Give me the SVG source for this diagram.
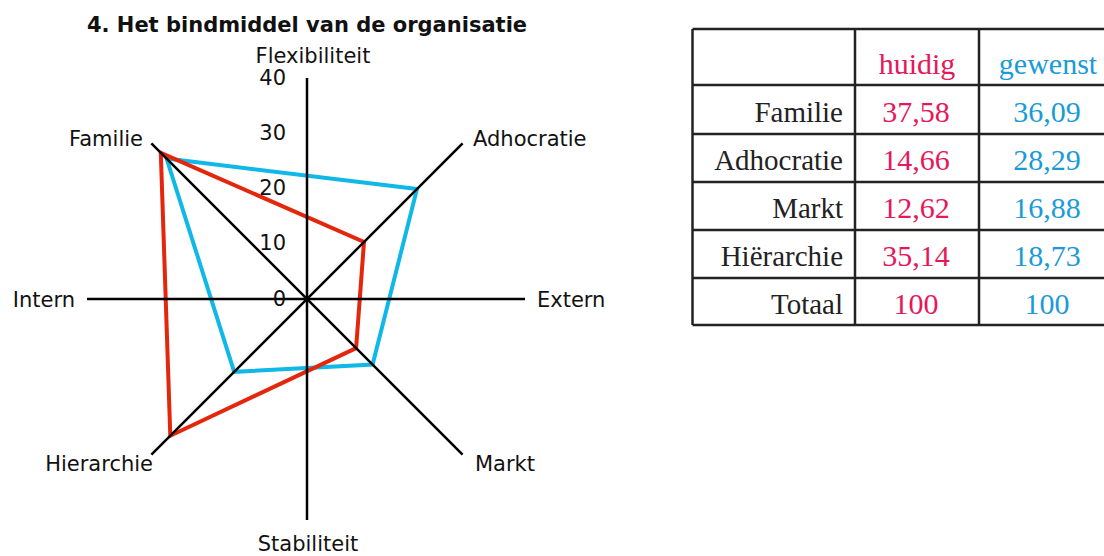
<svg xmlns="http://www.w3.org/2000/svg" width="1104" height="556" viewBox="0 0 1104 556">
<style>
.lbl{font-family:"DejaVu Sans",Verdana,sans-serif;font-size:21px;fill:#111}
.ttl{font-family:"DejaVu Sans",Verdana,sans-serif;font-size:21px;font-weight:bold;fill:#111}
.ax{stroke:#000;stroke-width:2.5;fill:none}
.red{stroke:#e3260c;stroke-width:4;fill:none;stroke-linejoin:miter}
.blue{stroke:#0fb8e6;stroke-width:4;fill:none;stroke-linejoin:miter}
.tb{stroke:#222;stroke-width:2.5;fill:none}
.tt{font-family:"Liberation Serif","Times New Roman",serif;font-size:29px;fill:#222}
.tr{font-family:"Liberation Serif","Times New Roman",serif;font-size:30px;fill:#e6175a}
.tbl{font-family:"Liberation Serif","Times New Roman",serif;font-size:30px;fill:#1b9ad8}
</style>
<rect width="1104" height="556" fill="#fff"/>
<text class="ttl" x="307" y="32" text-anchor="middle">4. Het bindmiddel van de organisatie</text>
<g id="data">
<polygon class="blue" points="166.6,158.6 417,189 372.6,364.6 234.2,371.8"/>
<polygon class="red" points="160.8,152.8 364,242 356.1,348.1 170.3,435.7"/>
</g>
<g id="axes">
<line class="ax" x1="307" y1="78" x2="307" y2="520"/>
<line class="ax" x1="87" y1="299" x2="525" y2="299"/>
<line class="ax" x1="151.4" y1="143.4" x2="462.6" y2="454.6"/>
<line class="ax" x1="462.6" y1="143.4" x2="151.4" y2="454.6"/>
</g>
<g id="scale" class="lbl">
<text x="286" y="85" text-anchor="end">40</text>
<text x="286" y="140" text-anchor="end">30</text>
<text x="286" y="195" text-anchor="end">20</text>
<text x="286" y="250" text-anchor="end">10</text>
<text x="286" y="306" text-anchor="end">0</text>
</g>
<g id="axis-labels" class="lbl">
<text x="313" y="63" text-anchor="middle">Flexibiliteit</text>
<text x="308" y="551" text-anchor="middle">Stabiliteit</text>
<text x="75" y="307" text-anchor="end">Intern</text>
<text x="537" y="307">Extern</text>
<text x="143" y="146" text-anchor="end">Familie</text>
<text x="473" y="146">Adhocratie</text>
<text x="153" y="471" text-anchor="end">Hierarchie</text>
<text x="475" y="471">Markt</text>
</g>
<g id="table">
<line class="tb" x1="692.5" y1="29" x2="1104" y2="29"/>
<line class="tb" x1="692.5" y1="85" x2="1104" y2="85"/>
<line class="tb" x1="692.5" y1="134" x2="1104" y2="134"/>
<line class="tb" x1="692.5" y1="182" x2="1104" y2="182"/>
<line class="tb" x1="692.5" y1="230" x2="1104" y2="230"/>
<line class="tb" x1="692.5" y1="278" x2="1104" y2="278"/>
<line class="tb" x1="692.5" y1="325" x2="1104" y2="325"/>
<line class="tb" x1="692.5" y1="29" x2="692.5" y2="325"/>
<line class="tb" x1="855" y1="29" x2="855" y2="325"/>
<line class="tb" x1="979" y1="29" x2="979" y2="325"/>
<text class="tr" x="917" y="74" text-anchor="middle">huidig</text>
<text class="tbl" x="1048" y="74" text-anchor="middle">gewenst</text>
<text class="tt" x="843" y="122" text-anchor="end">Familie</text>
<text class="tt" x="843" y="170" text-anchor="end">Adhocratie</text>
<text class="tt" x="843" y="218" text-anchor="end">Markt</text>
<text class="tt" x="843" y="266" text-anchor="end">Hiërarchie</text>
<text class="tt" x="843" y="314" text-anchor="end">Totaal</text>
<text class="tr" x="916" y="122" text-anchor="middle">37,58</text>
<text class="tr" x="916" y="170" text-anchor="middle">14,66</text>
<text class="tr" x="916" y="218" text-anchor="middle">12,62</text>
<text class="tr" x="916" y="266" text-anchor="middle">35,14</text>
<text class="tr" x="916" y="314" text-anchor="middle">100</text>
<text class="tbl" x="1047" y="122" text-anchor="middle">36,09</text>
<text class="tbl" x="1047" y="170" text-anchor="middle">28,29</text>
<text class="tbl" x="1047" y="218" text-anchor="middle">16,88</text>
<text class="tbl" x="1047" y="266" text-anchor="middle">18,73</text>
<text class="tbl" x="1047" y="314" text-anchor="middle">100</text>
</g>
</svg>
